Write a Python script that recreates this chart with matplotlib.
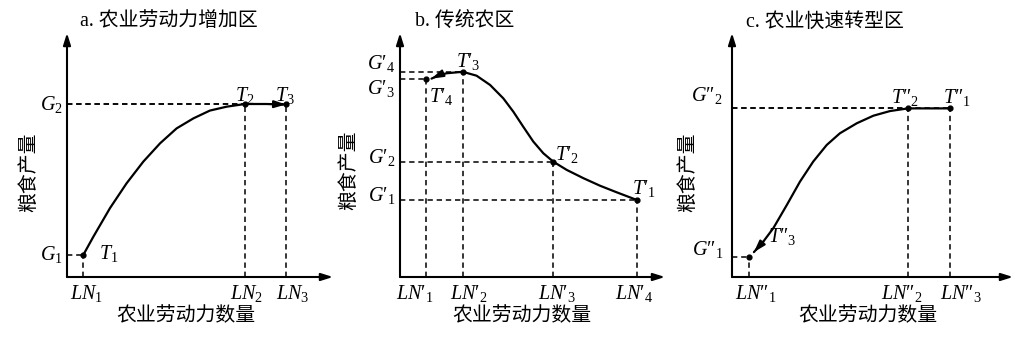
import matplotlib
matplotlib.use("Agg")
import matplotlib.pyplot as plt

plt.rcParams["mathtext.fontset"] = "custom"
plt.rcParams["mathtext.rm"] = "Liberation Serif"
plt.rcParams["mathtext.it"] = "Liberation Serif:italic"
plt.rcParams["font.family"] = ["Liberation Serif", "Noto Sans CJK SC"]

CJK = ["Liberation Serif", "Noto Sans CJK SC"]

# ---- a. 农业劳动力增加区 ----
ln_a = [6.1, 66.9, 82.3]
g_a = [9.0, 70.9]
curve_a_x = [6.1, 9.9, 16.2, 22.4, 28.7, 35.0, 41.2, 47.5, 53.7, 60.0, 66.9, 75.0, 82.3]
curve_a_y = [9.0, 16.5, 28.3, 38.4, 47.3, 54.8, 60.9, 65.0, 68.2, 69.8, 70.9, 70.9, 70.7]

# ---- b. 传统农区 ----
ln_b = [9.8, 23.7, 57.8, 89.3]
g_b = [31.6, 47.3, 81.0, 84.1]
curve_b_x = [89.3, 81.8, 75.5, 69.2, 62.9, 57.8, 54.1, 50.3, 46.5, 42.8, 39.0, 34.0, 28.9, 23.7, 17.6, 14.5, 11.9]
curve_b_y = [31.6, 34.7, 37.4, 40.5, 43.9, 47.3, 50.7, 55.5, 61.6, 67.7, 73.2, 78.7, 82.5, 84.1, 83.5, 82.6, 81.3]

# ---- c. 农业快速转型区 ----
ln_c = [6.2, 62.6, 77.6]
g_c = [8.4, 69.1]
curve_c_x = [77.6, 62.6, 56.2, 50.3, 44.4, 38.4, 33.7, 28.9, 24.2, 19.5, 14.7, 11.2, 7.8]
curve_c_y = [69.1, 69.1, 68.0, 66.1, 63.0, 58.9, 54.1, 47.3, 39.1, 29.5, 20.0, 14.6, 10.2]

W, H = 1034, 340
P1 = "\u2032"  # prime
P2 = "\u2033"  # double prime


def fig_xy(x, y):
    return x / W, 1 - y / H


def lab(sym, mark, k):
    return r"$\mathit{%s%s}_\mathrm{%d}$" % (sym, mark, k)


panels = [
    dict(
        rect=(67, 33, 266, 244),
        ln=ln_a, g=g_a, cx=curve_a_x, cy=curve_a_y,
        # T points as (LN index, G index)
        pts=[(0, 0), (1, 1), (2, 1)],
        mark="",
        ln_dx=[3, 2, 7],
        g_off=[(-4, 1), (-4, 0)],
        t_off=[(16, 2, "left"), (0, 9, "center"), (-1, 9, "center")],
        title="a. 农业劳动力增加区", title_xy=(80, 22),
        ylab_xy=(30, 172), xlab_xy=(186, 317),
    ),
    dict(
        rect=(400, 33, 265, 244),
        ln=ln_b, g=g_b, cx=curve_b_x, cy=curve_b_y,
        pts=[(3, 0), (2, 1), (1, 3), (0, 2)],
        mark=P1,
        ln_dx=[-11, 6, 4, -2],
        g_off=[(-5, 4), (-5, 4), (-5, -9), (-5, 8)],
        t_off=[(-5, 11, "left"), (2, 7, "left"), (5, 10, "center"), (3, -17, "left")],
        title="b. 传统农区", title_xy=(415, 22),
        ylab_xy=(350, 170), xlab_xy=(522, 317),
    ),
    dict(
        rect=(732, 33, 281, 244),
        ln=ln_c, g=g_c, cx=curve_c_x, cy=curve_c_y,
        pts=[(2, 1), (1, 1), (0, 0)],
        mark=P2,
        ln_dx=[6, -6, 11],
        g_off=[(-9, 7), (-10, 13)],
        t_off=[(7, 11, "center"), (-3, 11, "center"), (19, 20, "left")],
        title="c. 农业快速转型区", title_xy=(746, 22),
        ylab_xy=(689, 172), xlab_xy=(868, 317),
    ),
]

fig = plt.figure(figsize=(W / 100, H / 100), dpi=100)

dash = dict(color="black", lw=1.1, ls=(0, (3.5, 2.5)), zorder=2)
num_fs = 14.5
cjk_fs = 14.3

for p in panels:
    x0, y0, w, h = p["rect"]
    ax = fig.add_axes([x0 / W, 1 - (y0 + h) / H, w / W, h / H])
    ax.set_xlim(0, 100)
    ax.set_ylim(0, 100)
    ax.axis("off")

    # axes with arrow heads
    arrow = dict(arrowstyle="-|>,head_length=0.7,head_width=0.22", lw=1.5,
                 color="black", shrinkA=0, shrinkB=0)
    ax.annotate("", xy=(1, 0), xytext=(0, 0), xycoords="axes fraction", arrowprops=arrow)
    ax.annotate("", xy=(0, 1), xytext=(0, 0), xycoords="axes fraction", arrowprops=arrow)

    ln, g, m = p["ln"], p["g"], p["mark"]

    # dashed guide lines
    for i, j in p["pts"]:
        ax.plot([ln[i], ln[i]], [0, g[j]], **dash)
        ax.plot([0, ln[i]], [g[j], g[j]], **dash)

    # production curve, arrow marks the direction of change
    ax.plot(p["cx"], p["cy"], color="black", lw=1.6, zorder=3, solid_capstyle="round")
    ax.annotate("", xy=(p["cx"][-1], p["cy"][-1]), xytext=(p["cx"][-2], p["cy"][-2]),
                arrowprops=dict(arrowstyle="-|>,head_length=0.7,head_width=0.22", lw=1.4,
                                color="black", shrinkA=0, shrinkB=0), zorder=4)
    ax.scatter([ln[i] for i, j in p["pts"]], [g[j] for i, j in p["pts"]],
               s=12, color="black", zorder=5, clip_on=False)

    # point labels
    for k, (v, dx) in enumerate(zip(ln, p["ln_dx"]), start=1):
        ax.annotate(lab("LN", m, k), xy=(v, 0), xytext=(dx, -17), textcoords="offset pixels",
                    ha="center", va="center", fontsize=num_fs)
    for k, (v, (dx, dy)) in enumerate(zip(g, p["g_off"]), start=1):
        ax.annotate(lab("G", m, k), xy=(0, v), xytext=(dx, dy), textcoords="offset pixels",
                    ha="right", va="center", fontsize=num_fs)
    for k, ((i, j), (dx, dy, ha)) in enumerate(zip(p["pts"], p["t_off"]), start=1):
        ax.annotate(lab("T", m, k), xy=(ln[i], g[j]), xytext=(dx, dy), textcoords="offset pixels",
                    ha=ha, va="center", fontsize=num_fs)

    tx, ty = fig_xy(*p["title_xy"])
    fig.text(tx, ty, p["title"], ha="left", va="center", fontsize=cjk_fs, family=CJK)
    yx, yy = fig_xy(*p["ylab_xy"])
    fig.text(yx, yy, "粮食产量", ha="center", va="center", rotation=90,
             fontsize=cjk_fs, family=CJK)
    xx, xy_ = fig_xy(*p["xlab_xy"])
    fig.text(xx, xy_, "农业劳动力数量", ha="center", va="center", fontsize=cjk_fs, family=CJK)

fig.savefig("out.png", dpi=100)
